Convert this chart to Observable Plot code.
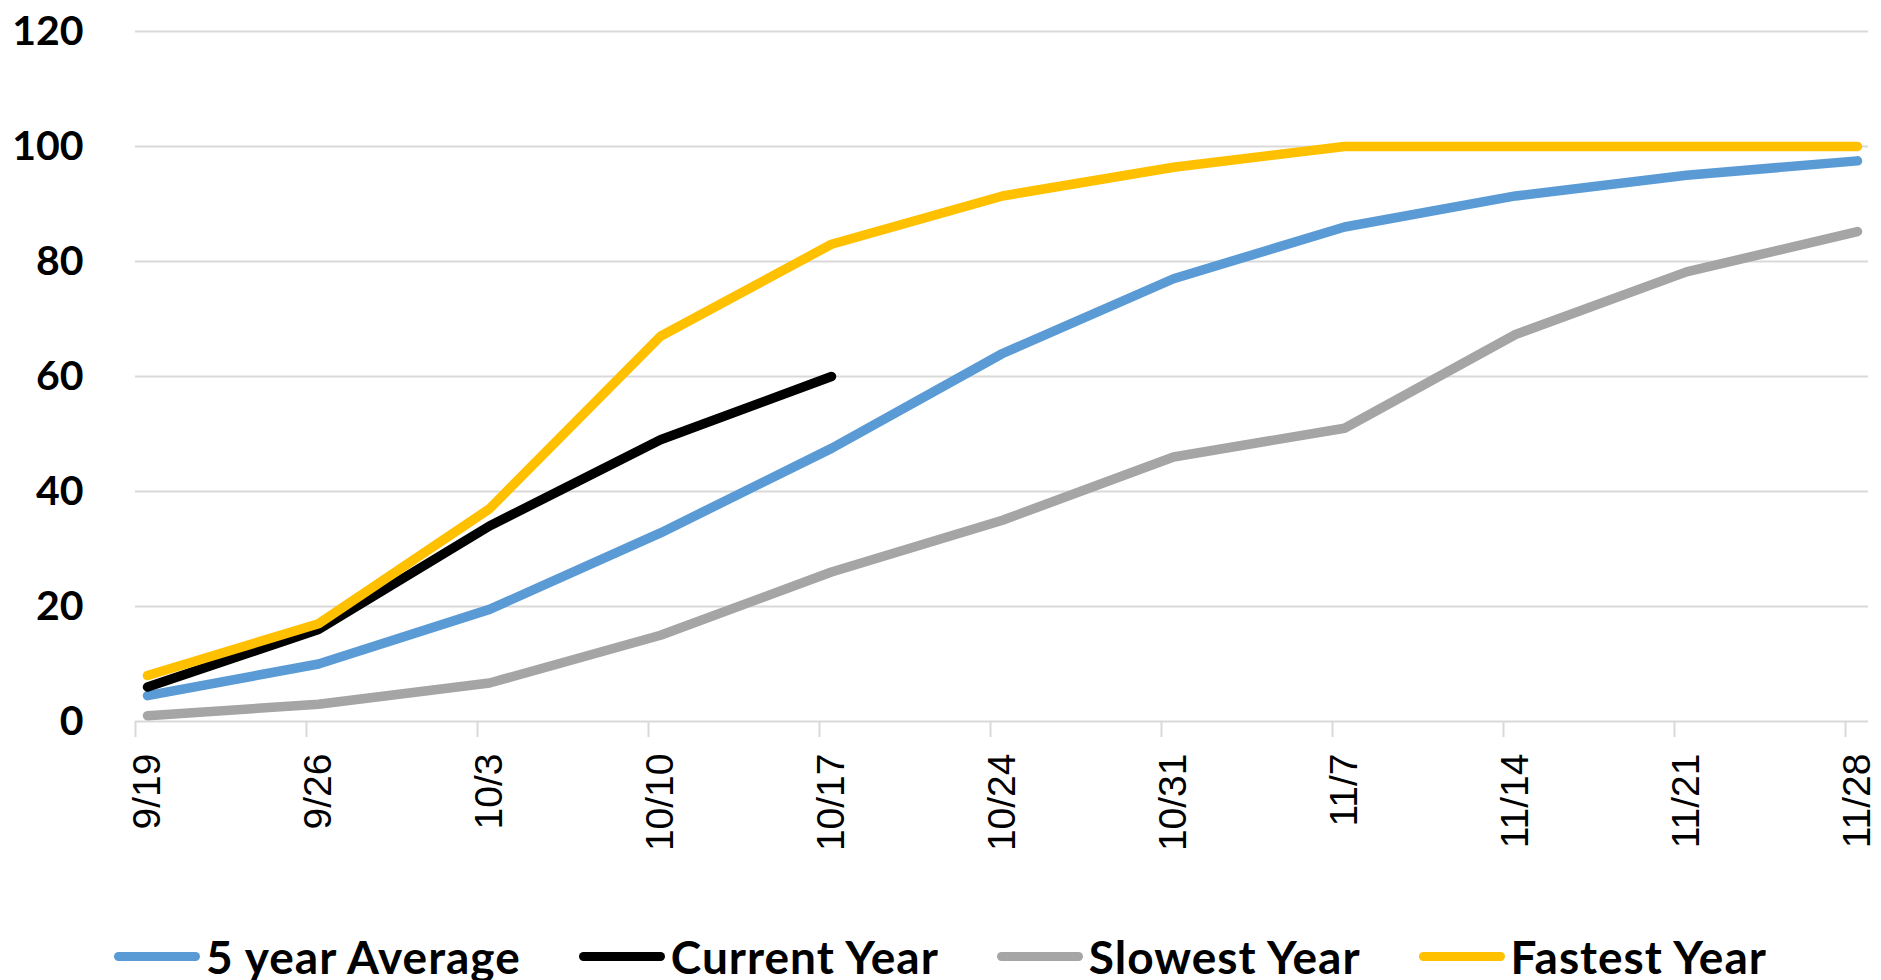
<!DOCTYPE html>
<html>
<head>
<meta charset="utf-8">
<script src="https://cdn.jsdelivr.net/npm/d3@7"></script>
<script src="https://cdn.jsdelivr.net/npm/@observablehq/plot@0.6"></script>
<style>
  html, body { margin: 0; padding: 0; background: #fff; }
  #chart svg { display: block; }
  #legend {
    display: flex; justify-content: center; align-items: center;
    height: 80px; margin-top: 16px; gap: 58px;
    font-family: Lato, "Open Sans", sans-serif; font-weight: bold; font-size: 46px; letter-spacing: 1px; color: #000;
  }
  .item { display: flex; align-items: center; }
  .sw { width: 86px; height: 9px; border-radius: 4.5px; margin-right: 6px; }
</style>
</head>
<body>
<div id="chart"></div>
<div id="legend"></div>
<script>
const dates = ["9/19","9/26","10/3","10/10","10/17","10/24","10/31","11/7","11/14","11/21","11/28"];
const avg5 = [4.5, 10, 19.5, 32.8, 47.5, 64, 77, 86, 91.4, 95, 97.5];
const current = [6, 16, 34, 49, 60];
const slowest = [1, 3, 6.7, 15, 26, 35, 46, 51, 67.3, 78.2, 85.2];
const fastest = [8, 17, 37, 67, 83, 91.4, 96.4, 100, 100, 100, 100];
const seriesNames = ["5 year Average", "Current Year", "Slowest Year", "Fastest Year"];
const yTicks = [0, 20, 40, 60, 80, 100, 120];

const colors = ["#5B9BD5", "#000000", "#A5A5A5", "#FFC000"];

const valuesByName = {
  "5 year Average": avg5,
  "Current Year": current,
  "Slowest Year": slowest,
  "Fastest Year": fastest
};
const rows = [];
for (const name of seriesNames) {
  valuesByName[name].forEach((v, j) => rows.push({series: name, date: dates[j], value: v}));
}

const chart = Plot.plot({
  width: 1881,
  height: 900,
  marginLeft: 135,
  marginRight: 13,
  marginTop: 31,
  marginBottom: 179,
  x: {type: "point", domain: dates, padding: 0.064},
  y: {domain: [0, 120]},
  color: {domain: seriesNames, range: colors},
  marks: [
    Plot.gridY(yTicks, {stroke: "#d9d9d9", strokeOpacity: 1, strokeWidth: 2}),
    Plot.axisY(yTicks, {tickSize: 0, tickPadding: 52, fontFamily: "Lato, 'Open Sans', sans-serif", fontWeight: "bold", fontSize: 41, fill: "#000", label: null}),
    Plot.axisX({tickSize: 16, tickFormat: () => "", dx: -12, stroke: "#d9d9d9", strokeOpacity: 1, strokeWidth: 2, label: null}),
    Plot.axisX({tickSize: 0, tickPadding: 32, tickRotate: -90, fontFamily: "'Liberation Sans Narrow', 'Arial Narrow', sans-serif", fontSize: 39, fill: "#000", label: null}),
    Plot.line(rows, {x: "date", y: "value", z: "series", stroke: "series", strokeWidth: 9.5, strokeLinecap: "round", strokeLinejoin: "round"})
  ]
});
document.getElementById("chart").appendChild(chart);

const legend = document.getElementById("legend");
seriesNames.forEach((name, i) => {
  const item = document.createElement("div");
  item.className = "item";
  const sw = document.createElement("span");
  sw.className = "sw";
  sw.style.background = colors[i];
  const t = document.createElement("span");
  t.textContent = name;
  item.appendChild(sw);
  item.appendChild(t);
  legend.appendChild(item);
});
</script>
</body>
</html>
